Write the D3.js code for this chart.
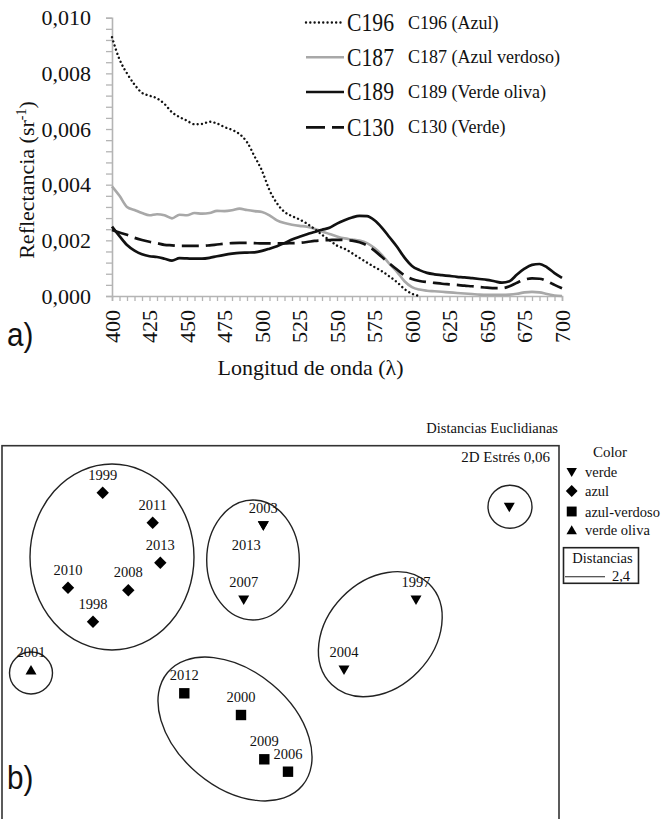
<!DOCTYPE html>
<html>
<head>
<meta charset="utf-8">
<script src="https://cdn.jsdelivr.net/npm/d3@7"></script>
<style>
  html, body { margin: 0; padding: 0; background: #fff; }
  svg { display: block; }
</style>
</head>
<body>
<svg id="fig" width="662" height="819"></svg>
<script>
// ---------- Panel a) spectral reflectance ----------
const wavelengths = d3.range(400, 701, 5);

const c196 = [0.0093, 0.0085, 0.0080, 0.0076, 0.0073, 0.0072, 0.0071, 0.0069, 0.0066, 0.00643,
  0.0063, 0.00617, 0.00618, 0.00626, 0.0062, 0.00607, 0.00597, 0.00582, 0.00553, 0.00502,
  0.0045, 0.0038, 0.00333, 0.00302, 0.00287, 0.00275, 0.0026, 0.00241, 0.0022, 0.00201,
  0.00181, 0.0017, 0.00154, 0.00137, 0.0012, 0.00104, 0.00089, 0.0007, 0.0005, 0.00025,
  0.00008, 0.0, null, null, null, null, null, null, null, null,
  null, null, null, null, null, null, null, null, null, null, null];

const c187 = [0.00394, 0.0036, 0.0032, 0.00309, 0.00298, 0.0029, 0.00294, 0.0029, 0.00279, 0.00292,
  0.0029, 0.00298, 0.00296, 0.00298, 0.00306, 0.00305, 0.00308, 0.00314, 0.00309, 0.00305,
  0.00302, 0.0029, 0.00272, 0.00262, 0.00256, 0.00252, 0.00249, 0.00242, 0.00232, 0.00223,
  0.00214, 0.00207, 0.00203, 0.00199, 0.0019, 0.00172, 0.00147, 0.00115, 0.00087, 0.00053,
  0.00032, 0.00023, 0.00019, 0.00017, 0.00015, 0.00013, 0.00011, 0.00009, 0.00007, 0.00005,
  0.00004, 0.00004, 0.00004, 0.00005, 0.00008, 0.00013, 0.00015, 0.00013, 0.00007, 0.00002, 0.0];

const c189 = [0.00249, 0.00215, 0.00183, 0.00163, 0.0015, 0.00143, 0.0014, 0.00134, 0.00127, 0.00136,
  0.00135, 0.00134, 0.00134, 0.00137, 0.00143, 0.00148, 0.00152, 0.00155, 0.00156, 0.00157,
  0.00162, 0.0017, 0.00179, 0.0019, 0.00203, 0.00213, 0.00222, 0.0023, 0.00238, 0.00245,
  0.0026, 0.00272, 0.00282, 0.00288, 0.00287, 0.00272, 0.00245, 0.00211, 0.00177, 0.00138,
  0.00108, 0.00093, 0.00083, 0.00078, 0.00075, 0.00072, 0.00069, 0.00067, 0.00064, 0.00061,
  0.00058, 0.00053, 0.00048, 0.00053, 0.00077, 0.00098, 0.00112, 0.00115, 0.00103, 0.00082, 0.00065];

const c130 = [0.00237, 0.00228, 0.0022, 0.00209, 0.00201, 0.00195, 0.0019, 0.00184, 0.00182, 0.0018,
  0.0018, 0.0018, 0.0018, 0.00182, 0.00185, 0.00188, 0.0019, 0.00191, 0.00191, 0.0019,
  0.00189, 0.00189, 0.00189, 0.00189, 0.0019, 0.00191, 0.00194, 0.00198, 0.002, 0.00201,
  0.00202, 0.00201, 0.00199, 0.00193, 0.00182, 0.00163, 0.0014, 0.00117, 0.00095, 0.00074,
  0.00061, 0.00054, 0.0005, 0.00047, 0.00044, 0.00042, 0.0004, 0.00037, 0.00035, 0.00032,
  0.0003, 0.00028, 0.00028, 0.00035, 0.00048, 0.00059, 0.00063, 0.00062, 0.00053, 0.0004, 0.00028];

const seriesCodes = ["C196", "C187", "C189", "C130"];
const seriesNames = ["C196 (Azul)", "C187 (Azul verdoso)", "C189 (Verde oliva)", "C130 (Verde)"];
const seriesValues = [c196, c187, c189, c130];

const yTickValues = [0, 0.002, 0.004, 0.006, 0.008, 0.010];
const xTickValues = d3.range(400, 701, 25);

// ---------- Panel b) nMDS ordination ----------
const colorGroups = ["verde", "azul", "azul-verdoso", "verde oliva"];

const pointLabels = ["1999", "2011", "2013", "2010", "2008", "1998",
  "2003", "2013", "2007", "1997", "2004", "",
  "2001",
  "2012", "2000", "2009", "2006"];
const pointGroups = ["azul", "azul", "azul", "azul", "azul", "azul",
  "verde", "verde", "verde", "verde", "verde", "verde",
  "verde oliva",
  "azul-verdoso", "azul-verdoso", "azul-verdoso", "azul-verdoso"];
const pointMds1 = [-1.773, -1.273, -1.197, -2.12, -1.517, -1.87,
  -0.167, -0.167, -0.363, 1.36, 0.64, 2.293,
  -2.49,
  -0.957, -0.39, -0.157, 0.08];
const pointMds2 = [1.393, 1.093, 0.693, 0.443, 0.417, 0.103,
  1.063, 1.063, 0.32, 0.32, -0.38, 1.247,
  -0.38,
  -0.613, -0.83, -1.273, -1.397];

// Groups joined at Euclidean distance 2,4 (centre, semi-axes, tilt in degrees)
const clusterCx   = [-1.68, -0.27, 1.003, -0.45, -2.49, 2.30];
const clusterCy   = [0.75, 0.72, -0.022, -0.97, -0.41, 1.253];
const clusterRx   = [0.82, 0.463, 0.70, 0.88, 0.215, 0.22];
const clusterRy   = [0.93, 0.60, 0.532, 0.58, 0.21, 0.215];
const clusterTilt = [0, 0, 46, -40, 0, 0];

const SERIF = "'Liberation Serif'";
const SANS = "'Liberation Sans'";

const svg = d3.select("#fig");

function label(g, cls) {
  return g.append("text").style("font-family", cls === "sans" ? SANS : SERIF).attr("fill", "#111");
}

// ================= Panel a =================
const x = d3.scaleLinear().domain([400, 700]).range([112, 562]);
const y = d3.scaleLinear().domain([0, 0.010]).range([296, 17.7]);
const axisColor = "#b4b4b4";
const fmt = d => d3.format(".3f")(d).replace(".", ",");

// axis marks and texts live in separate groups
const gAxes = svg.append("g");
const gA = svg.append("g");

// y axis: minor ticks every 0.0004, labels every 0.002
const yAxis = gAxes.append("g").attr("transform", `translate(${x(400)},0)`)
  .call(d3.axisLeft(y).tickValues(d3.range(0, 0.01001, 0.0004)).tickSize(6).tickFormat(""));
yAxis.select(".domain").attr("stroke", axisColor).attr("stroke-width", 1.6);
yAxis.selectAll(".tick line").attr("stroke", axisColor).attr("stroke-width", 1.3);
yAxis.selectAll(".tick text").remove();

yTickValues.forEach(d => {
  label(gA).attr("x", 91).attr("y", y(d)).attr("dy", "0.35em")
    .attr("text-anchor", "end").attr("font-size", 22).text(fmt(d));
});

// x axis: minor ticks every 5 nm, labels every 25 nm
const xAxis = gAxes.append("g").attr("transform", `translate(0,${y(0)})`)
  .call(d3.axisBottom(x).tickValues(wavelengths).tickSize(5).tickFormat(""));
xAxis.select(".domain").attr("stroke", axisColor).attr("stroke-width", 1.6);
xAxis.selectAll(".tick line").attr("stroke", axisColor).attr("stroke-width", 1.3);
xAxis.selectAll(".tick text").remove();

xTickValues.forEach(d => {
  label(gA).attr("transform", `translate(${x(d)},310) rotate(-90)`)
    .attr("dy", "0.35em").attr("text-anchor", "end").attr("font-size", 22)
    .text(d);
});

// axis titles
const yTitle = label(gA)
  .attr("transform", "translate(33.5,180) rotate(-90)")
  .attr("text-anchor", "middle").attr("font-size", 22);
yTitle.append("tspan").text("Reflectancia (sr");
yTitle.append("tspan").attr("font-size", 14).attr("dy", -8).text("-1");
yTitle.append("tspan").attr("dy", 8).text(")");

label(gA).attr("x", 310.5).attr("y", 375)
  .attr("text-anchor", "middle").attr("font-size", 22)
  .text("Longitud de onda (λ)");

label(gA, "sans")
  .attr("transform", "translate(7,346) scale(0.9,1)")
  .attr("font-size", 33).text("a)");

// series styles
const styles = [
  { stroke: "#111", width: 2.4, dash: "0.01 4.3", cap: "round" },
  { stroke: "#a8a8a8", width: 2.6, dash: null, cap: "butt" },
  { stroke: "#111", width: 2.7, dash: null, cap: "butt" },
  { stroke: "#111", width: 2.7, dash: "17 7", cap: "butt" }
];

const line = d3.line()
  .defined(d => d[1] !== null)
  .x(d => x(d[0])).y(d => y(d[1]))
  .curve(d3.curveMonotoneX);

const drawOrder = [1, 3, 2, 0];
drawOrder.forEach(i => {
  const pts = wavelengths.map((w, k) => [w, seriesValues[i][k]]);
  gAxes.append("path").datum(pts)
    .attr("d", line).attr("fill", "none")
    .attr("stroke", styles[i].stroke).attr("stroke-width", styles[i].width)
    .attr("stroke-dasharray", styles[i].dash)
    .attr("stroke-linecap", styles[i].cap)
    .attr("stroke-linejoin", "round");
});

// legend
const legendRows = [22.5, 57.3, 92, 127.3];
seriesCodes.forEach((code, i) => {
  const cy = legendRows[i];
  gAxes.append("line").attr("x1", 306).attr("x2", 344).attr("y1", cy).attr("y2", cy)
    .attr("stroke", styles[i].stroke).attr("stroke-width", styles[i].width)
    .attr("stroke-dasharray", i === 3 ? "19 7" : styles[i].dash)
    .attr("stroke-linecap", styles[i].cap);
  label(gA).attr("x", 347).attr("y", cy + 8.3)
    .attr("font-size", 25).attr("textLength", 47).attr("lengthAdjust", "spacingAndGlyphs")
    .text(code);
  label(gA).attr("x", 408).attr("y", cy + 6)
    .attr("font-size", 18).text(seriesNames[i]);
});

// ================= Panel b =================
const bx = d3.scaleLinear().domain([-2.78, 2.79]).range([2, 559]);
const by = d3.scaleLinear().domain([-1.93, 1.863]).range([825, 445.7]);
const gB = svg.append("g");

label(gB).attr("x", 558).attr("y", 433)
  .attr("text-anchor", "end").attr("font-size", 14.5).text("Distancias Euclidianas");

gB.append("rect")
  .attr("x", bx(-2.78)).attr("y", by(1.863))
  .attr("width", bx(2.79) - bx(-2.78)).attr("height", by(-1.93) - by(1.863))
  .attr("fill", "none").attr("stroke", "#333").attr("stroke-width", 1.6);

label(gB).attr("x", 550).attr("y", 462)
  .attr("text-anchor", "end").attr("font-size", 15).text("2D Estrés 0,06");

// cluster outlines
const pxPerUnitX = bx(1) - bx(0);
const pxPerUnitY = by(0) - by(1);
clusterCx.forEach((cx, i) => {
  gB.append("ellipse")
    .attr("transform", `translate(${bx(cx)},${by(clusterCy[i])}) rotate(${-clusterTilt[i]})`)
    .attr("rx", clusterRx[i] * pxPerUnitX).attr("ry", clusterRy[i] * pxPerUnitY)
    .attr("fill", "none").attr("stroke", "#222").attr("stroke-width", 1.4);
});

// marker shapes per colour group
function markerPath(group, s) {
  if (group === "verde") return `M${-5.5 * s},${-4.5 * s}L${5.5 * s},${-4.5 * s}L0,${5 * s}Z`;
  if (group === "verde oliva") return `M${-5.5 * s},${4.5 * s}L${5.5 * s},${4.5 * s}L0,${-5 * s}Z`;
  if (group === "azul") return `M0,${-6.2 * s}L${6.2 * s},0L0,${6.2 * s}L${-6.2 * s},0Z`;
  return `M${-5.2 * s},${-5.2 * s}h${10.4 * s}v${10.4 * s}h${-10.4 * s}Z`;
}

// label nudges (pixels) where labels do not sit directly above their point
const labelNudge = { 7: [-17, 37] };

pointLabels.forEach((lab, i) => {
  const px = bx(pointMds1[i]), py = by(pointMds2[i]);
  gB.append("path").attr("transform", `translate(${px},${py})`)
    .attr("d", markerPath(pointGroups[i], 1)).attr("fill", "#000");
  if (lab) {
    const n = labelNudge[i] || [0, 0];
    label(gB).attr("x", px + n[0]).attr("y", py - 13 + n[1])
      .attr("text-anchor", "middle").attr("font-size", 14.5).text(lab);
  }
});

// colour legend
label(gB).attr("x", 610).attr("y", 457)
  .attr("text-anchor", "middle").attr("font-size", 15).text("Color");
const legY = [472.3, 491, 511.5, 530];
colorGroups.forEach((g, i) => {
  gB.append("path").attr("transform", `translate(571.7,${legY[i]})`)
    .attr("d", markerPath(g, 0.95)).attr("fill", "#000");
  label(gB).attr("x", 585).attr("y", legY[i] + 5)
    .attr("font-size", 14.5).text(g);
});

// distance legend box
gB.append("rect").attr("x", 563.5).attr("y", 547.7).attr("width", 75).attr("height", 35.6)
  .attr("fill", "none").attr("stroke", "#222").attr("stroke-width", 1.6);
label(gB).attr("x", 602.5).attr("y", 562.8)
  .attr("text-anchor", "middle").attr("font-size", 14.5).text("Distancias");
gB.append("line").attr("x1", 565).attr("x2", 605).attr("y1", 576.7).attr("y2", 576.7)
  .attr("stroke", "#222").attr("stroke-width", 1.1);
label(gB).attr("x", 630).attr("y", 581)
  .attr("text-anchor", "end").attr("font-size", 14.5).text("2,4");

label(gB, "sans")
  .attr("transform", "translate(7,789) scale(0.9,1)")
  .attr("font-size", 33).text("b)");
</script>
</body>
</html>
